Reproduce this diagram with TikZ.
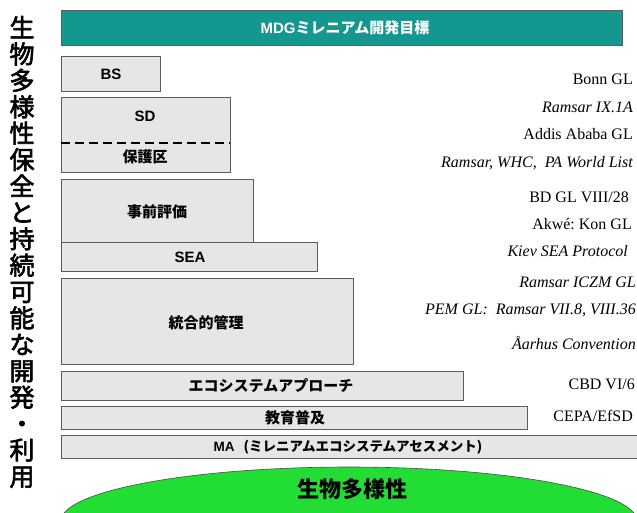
\documentclass[tikz,border=0pt]{standalone}
\usepackage{fontspec}
\setmainfont{Liberation Serif}
\newfontfamily\lsans{Liberation Sans}
\newfontfamily\jp{Noto Sans CJK JP}
\newfontfamily\jpmed[FakeBold=2.5]{Noto Sans CJK JP}
\definecolor{teal1}{HTML}{14978F}
\definecolor{boxfill}{HTML}{E6E6E6}
\definecolor{boxline}{HTML}{5C5C5C}
\definecolor{grn}{HTML}{22DD33}
\tikzset{
  box/.style={draw=boxline, fill=boxfill, line width=1pt},
  lbl/.style={inner sep=0pt, font=\lsans\bfseries\fontsize{15}{17}\selectfont},
  ref/.style={inner sep=0pt, anchor=mid east, font=\fontsize{16}{18}\selectfont},
  refi/.style={ref, font=\itshape\fontsize{16}{18}\selectfont},
}
\begin{document}
\begin{tikzpicture}[x=1pt,y=-1pt]
\useasboundingbox (0,0) rectangle (637,512);
\clip (0,0) rectangle (637,512);
% left vertical title
\node[inner sep=0pt, align=center, font=\jpmed\fontsize{25}{26.4}\selectfont] (title) at (22,252)
 {生\\物\\多\\様\\性\\保\\全\\と\\持\\続\\可\\能\\な\\開\\発\\・\\利\\用};
% MDG
\draw[draw=boxline, fill=teal1, line width=1pt] (61,10) rectangle (622,45);
\node[lbl, text=white] (mdg) at (345,28) {MDG{\jp ミレニアム開発目標}};
% boxes
\draw[box] (61,56) rectangle (160,91);
\node[lbl] (bs) at (111,74) {BS};
\draw[box] (61,97) rectangle (230,172);
\draw[black, line width=1.4pt, dash pattern=on 9pt off 5pt] (61,143) -- (230,143);
\node[lbl] (sd) at (145,116) {SD};
\node[lbl] (pa) at (145,157) {\jp 保護区};
\draw[box] (61,179) rectangle (253,242);
\node[lbl] (eia) at (157,212) {\jp 事前評価};
\draw[box] (61,242) rectangle (317,271);
\node[lbl] (sea) at (190,257) {SEA};
\draw[box] (61,278) rectangle (353,364);
\node[lbl] (icm) at (206,323) {\jp 統合的管理};
\draw[box] (61,371) rectangle (463,400);
\node[lbl] (eco) at (271,386) {\jp エコシステムアプローチ};
\draw[box] (61,406) rectangle (527,429);
\node[lbl] (cepa) at (295,418) {\jp 教育普及};
\draw[box] (61,435) rectangle (640,458);
\node[lbl, font=\lsans\bfseries\fontsize{13.5}{15}\selectfont] (ma) at (348,447) {MA\hspace{9pt}{\jp (ミレニアムエコシステムアセスメント)}};
% ellipse
\draw[fill=grn, draw=gray!60!black, line width=0.6pt] (349,521) ellipse [x radius=288, y radius=54];
\node[inner sep=0pt, font=\jp\bfseries\fontsize{22}{24}\selectfont] (bd) at (352,489) {生物多様性};
% right references
\node[ref]  (r1)  at (633,82)  {Bonn GL};
\node[refi] (r2)  at (633,110) {Ramsar IX.1A};
\node[ref]  (r3)  at (633,137) {Addis Ababa GL};
\node[refi] (r4)  at (633,165) {Ramsar, WHC,\ \ PA World List};
\node[ref]  (r5)  at (629,200) {BD GL VIII/28};
\node[ref]  (r6)  at (632,227) {Akwé:\ Kon GL};
\node[refi] (r7)  at (628,254) {Kiev SEA Protocol};
\node[refi] (r8)  at (636,285) {Ramsar ICZM GL};
\node[refi] (r9)  at (636,312) {PEM GL:\ \ Ramsar VII.8, VIII.36};
\node[refi] (r10) at (636,347) {Åarhus Convention};
\node[ref]  (r11) at (635,387) {CBD VI/6};
\node[ref]  (r12) at (633,419) {CEPA/EfSD};
\end{tikzpicture}
\end{document}
